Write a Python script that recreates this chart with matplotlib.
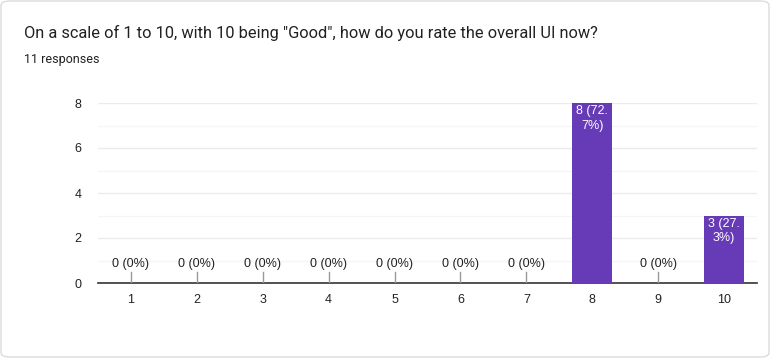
import matplotlib
matplotlib.use("Agg")
import matplotlib.pyplot as plt
from matplotlib.patches import FancyBboxPatch

categories = ["1", "2", "3", "4", "5", "6", "7", "8", "9", "10"]
counts = [0, 0, 0, 0, 0, 0, 0, 8, 0, 3]
labels = ["0 (0%)", "0 (0%)", "0 (0%)", "0 (0%)", "0 (0%)", "0 (0%)", "0 (0%)",
          "8 (72.\n7%)", "0 (0%)", "3 (27.\n3%)"]
yticks = [0, 2, 4, 6, 8]
title = 'On a scale of 1 to 10, with 10 being "Good", how do you rate the overall UI now?'
subtitle = "11 responses"

plt.rcParams['font.family'] = ['Roboto', 'DejaVu Sans']
chart_font = ['Liberation Sans', 'DejaVu Sans']
W, H = 770, 358
fig = plt.figure(figsize=(W / 100, H / 100), dpi=100)
fig.patch.set_facecolor("white")

card = FancyBboxPatch((1 / W, 1 / H), 1 - 2 / W, 1 - 2 / H,
                      boxstyle="round,pad=0,rounding_size=0.012",
                      transform=fig.transFigure, facecolor="white",
                      edgecolor="#dadce0", linewidth=1, zorder=-10)
fig.patches.append(card)

fig.text(24 / W, 1 - 33 / H, title, fontsize=11.8, color="#202124", va="center")
fig.text(24 / W, 1 - 60 / H, subtitle, fontsize=9, color="#202124", va="center")

left, right, top, bottom = 98, 757, 103, 283
ax = fig.add_axes([left / W, 1 - bottom / H, (right - left) / W, (bottom - top) / H])
ax.set_zorder(5)
ax.set_facecolor("white")
x = list(range(len(categories)))
ax.bar(x, counts, width=0.61, color="#673ab7", zorder=3)
ax.set_xlim(-0.5, len(categories) - 0.5)
ax.set_ylim(0, 8)
ax.set_yticks(yticks)
ax.set_yticks([1, 3, 5, 7], minor=True)
ax.set_xticks(x)
ax.set_xticklabels(categories, family=chart_font)
ax.set_yticklabels([str(v) for v in yticks], family=chart_font)
ax.grid(axis="y", which="major", color="#ebebeb", linewidth=1, zorder=0)
ax.grid(axis="y", which="minor", color="#f5f5f5", linewidth=1, zorder=0)
for s in ["top", "right", "left"]:
    ax.spines[s].set_visible(False)
ax.spines["bottom"].set_color("#333333")
ax.spines["bottom"].set_linewidth(1.2)
ax.tick_params(axis="both", which="both", length=0, labelsize=9, colors="#222222")
ax.tick_params(axis="y", pad=12)
ax.tick_params(axis="x", pad=8)

for xi, c, lab in zip(x, counts, labels):
    if c == 0:
        ax.plot([xi, xi], [0, 0.5], color="#999999", linewidth=1, zorder=4)
        ax.text(xi, 0.85, lab, ha="center", va="center", fontsize=9, color="#222222",
                family=chart_font, zorder=5)
    else:
        ax.text(xi, c - 0.1, lab, ha="center", va="top", fontsize=9, color="white",
                family=chart_font, linespacing=1.3, zorder=5)

fig.savefig("out.png", dpi=100, facecolor="white")
